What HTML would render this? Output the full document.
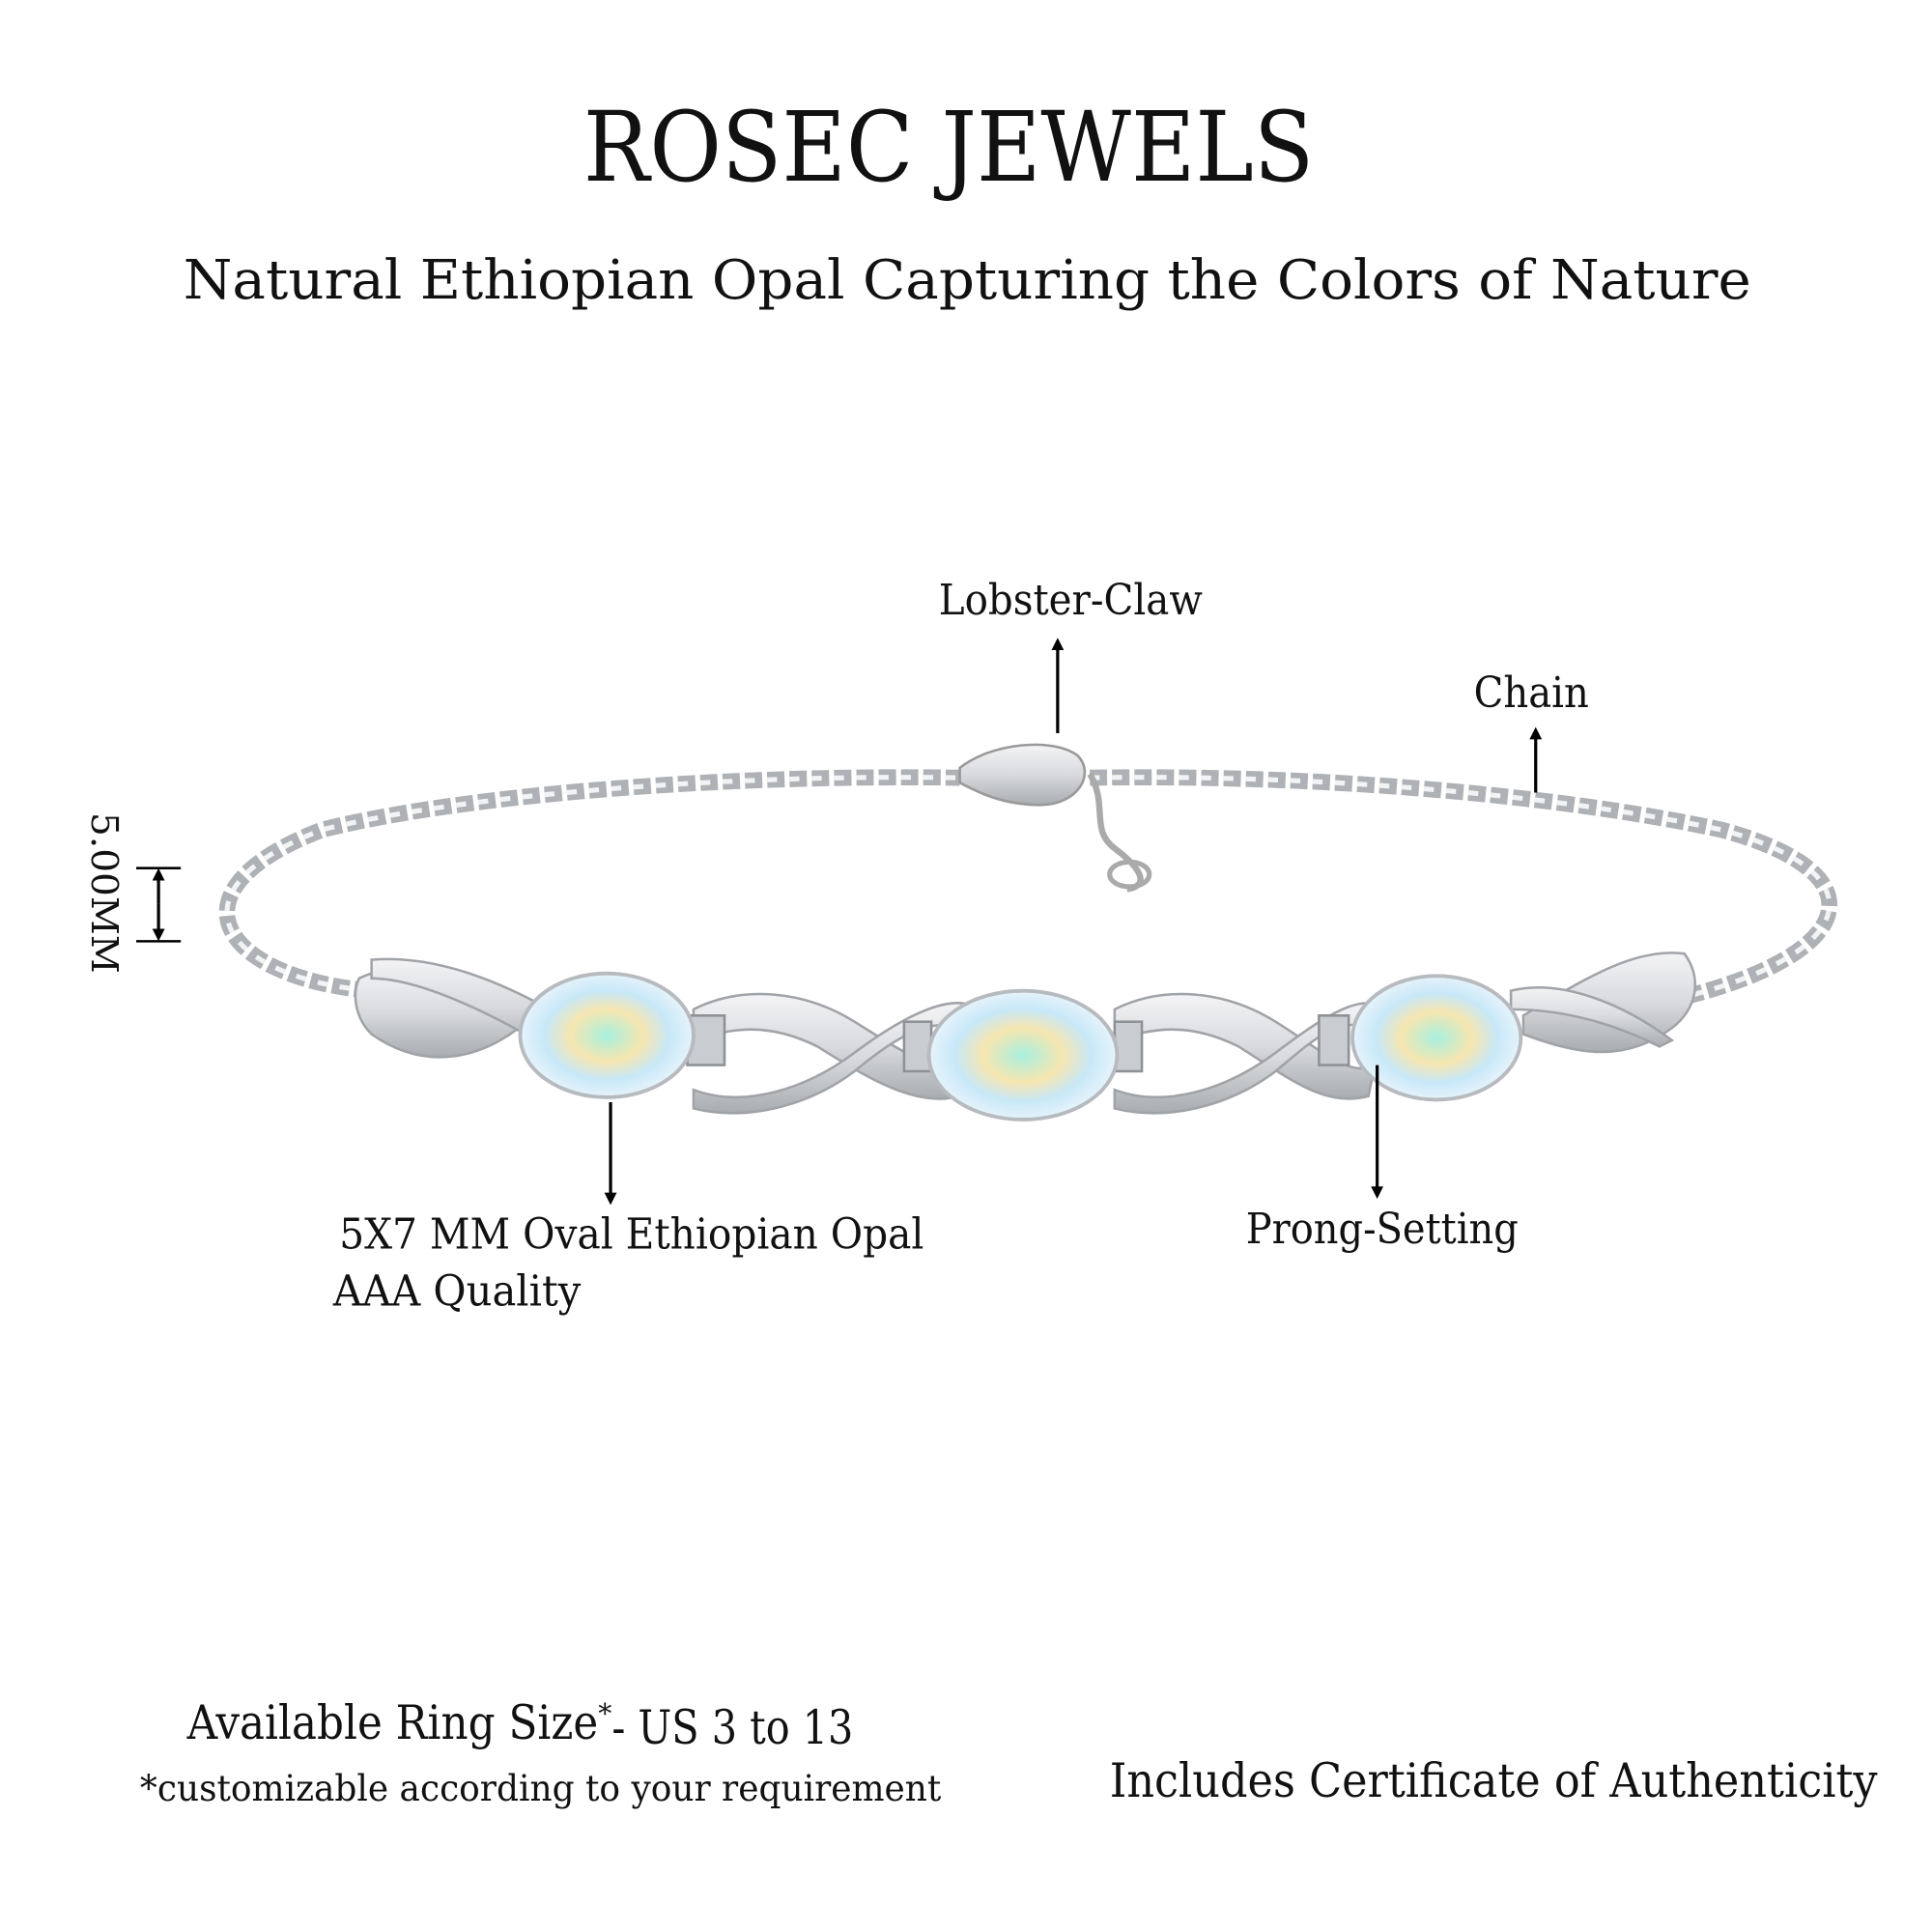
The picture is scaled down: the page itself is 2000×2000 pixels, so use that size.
<!DOCTYPE html>
<html><head><meta charset="utf-8"><style>
html,body{margin:0;padding:0;background:#fff;}
svg{display:block;}
text{font-family:"DejaVu Serif","Liberation Serif",serif;fill:#111;}
</style></head><body>
<svg width="2000" height="2000" viewBox="0 0 1560 1560" xmlns="http://www.w3.org/2000/svg">
<defs>
<radialGradient id="op" cx="50%" cy="50%" r="60%">
<stop offset="0" stop-color="#a8f0e0"/>
<stop offset="0.35" stop-color="#f6e6b0"/>
<stop offset="0.6" stop-color="#c8e8f8"/>
<stop offset="0.85" stop-color="#e8f4fb"/>
<stop offset="1" stop-color="#ffffff"/>
</radialGradient>
<linearGradient id="mt" x1="0" y1="0" x2="0" y2="1">
<stop offset="0" stop-color="#f4f4f6"/><stop offset="0.5" stop-color="#d8dadd"/><stop offset="1" stop-color="#a9acb0"/>
</linearGradient>
<marker id="ah" markerWidth="10" markerHeight="10" refX="5" refY="5" orient="auto" markerUnits="userSpaceOnUse"><path d="M0,0 L10,5 L0,10 z" fill="#000"/></marker>
</defs>

<g transform="translate(-4,-4)">
<text x="770" y="150" font-size="78" text-anchor="middle" textLength="590" lengthAdjust="spacingAndGlyphs">ROSEC JEWELS</text>
<text x="785" y="245" font-size="44" text-anchor="middle" textLength="1266" lengthAdjust="spacingAndGlyphs">Natural Ethiopian Opal Capturing the Colors of Nature</text>
</g>

<!-- chain -->
<path d="M300,800 C180,790 130,720 260,670 C380,640 600,625 775,628" fill="none" stroke="#aeb1b5" stroke-width="13" stroke-dasharray="14 4"/>
<path d="M300,800 C180,790 130,720 260,670 C380,640 600,625 775,628" fill="none" stroke="#f2f3f5" stroke-width="4" stroke-dasharray="8 10"/>
<path d="M880,628 C1050,625 1250,640 1390,670 C1520,705 1500,770 1360,805" fill="none" stroke="#aeb1b5" stroke-width="13" stroke-dasharray="14 4"/>
<path d="M880,628 C1050,625 1250,640 1390,670 C1520,705 1500,770 1360,805" fill="none" stroke="#f2f3f5" stroke-width="4" stroke-dasharray="8 10"/>
<!-- clasp -->
<path d="M775,620 C800,600 850,595 870,610 C885,625 870,650 840,650 C810,650 790,640 775,632 z" fill="url(#mt)" stroke="#999" stroke-width="2"/>
<path d="M880,625 C895,650 880,670 900,685 C920,700 930,715 910,718" fill="none" stroke="#aaa" stroke-width="5"/>
<ellipse cx="912" cy="706" rx="16" ry="10" fill="none" stroke="#aaa" stroke-width="4"/>

<!-- infinity links -->
<g fill="url(#mt)" stroke="#a0a3a7" stroke-width="2">
<path d="M290,790 C330,770 380,790 430,820 C400,850 350,870 300,835 C285,820 285,800 290,790 z"/>
<path d="M300,775 C360,770 420,800 470,830 L450,850 C400,820 340,790 300,790 z"/>
<path d="M560,815 C600,795 650,800 690,825 C730,850 760,870 780,860 L775,885 C740,895 700,870 660,845 C620,825 590,830 560,840 z"/>
<path d="M560,880 C600,895 650,880 690,850 C730,820 770,800 790,815 L780,830 C750,820 720,840 690,865 C650,895 600,905 560,895 z"/>
<path d="M900,815 C940,795 990,800 1030,825 C1070,850 1090,870 1110,860 L1105,885 C1070,895 1040,870 1000,845 C960,825 930,830 900,840 z"/>
<path d="M900,880 C940,895 990,880 1030,850 C1070,820 1100,800 1120,815 L1110,830 C1080,820 1060,840 1030,865 C990,895 940,905 900,895 z"/>
<path d="M1230,820 C1280,790 1320,765 1360,770 C1375,790 1370,815 1350,830 C1310,860 1270,850 1230,835 z"/>
<path d="M1220,800 C1260,790 1310,810 1350,840 L1340,845 C1300,825 1260,815 1220,815 z"/>
</g>
<g fill="#c9ccd0" stroke="#8e9196" stroke-width="2">
<rect x="555" y="820" width="30" height="40"/>
<rect x="730" y="825" width="22" height="40"/>
<rect x="900" y="825" width="22" height="40"/>
<rect x="1065" y="820" width="24" height="40"/>
</g>

<!-- opals -->
<g stroke="#b7babe" stroke-width="3">
<ellipse cx="490" cy="836" rx="70" ry="50" fill="url(#op)"/>
<ellipse cx="826" cy="852" rx="76" ry="52" fill="url(#op)"/>
<ellipse cx="1160" cy="838" rx="68" ry="50" fill="url(#op)"/>
</g>

<!-- callouts -->
<g transform="translate(-4,-4)">
<text x="762" y="500" font-size="34" textLength="213" lengthAdjust="spacingAndGlyphs">Lobster-Claw</text>
<text x="1194" y="575" font-size="34" textLength="93" lengthAdjust="spacingAndGlyphs">Chain</text>
<text transform="translate(78,660) rotate(90)" font-size="30" textLength="130" lengthAdjust="spacingAndGlyphs">5.00MM</text>
<text x="278" y="1012" font-size="34" textLength="472" lengthAdjust="spacingAndGlyphs">5X7 MM Oval Ethiopian Opal</text>
<text x="273" y="1058" font-size="34" textLength="200" lengthAdjust="spacingAndGlyphs">AAA Quality</text>
<text x="1010" y="1008" font-size="34" textLength="220" lengthAdjust="spacingAndGlyphs">Prong-Setting</text>
<text x="155" y="1408" font-size="38" textLength="332" lengthAdjust="spacingAndGlyphs">Available Ring Size</text>
<text x="487" y="1395" font-size="22">*</text>
<text x="498" y="1412" font-size="38" textLength="195" lengthAdjust="spacingAndGlyphs">- US 3 to 13</text>
<text x="117" y="1458" font-size="29" textLength="647" lengthAdjust="spacingAndGlyphs">*customizable according to your requirement</text>
<text x="900" y="1455" font-size="38" textLength="620" lengthAdjust="spacingAndGlyphs">Includes Certificate of Authenticity</text>
</g>

<line x1="854" y1="592" x2="854" y2="520" stroke="#000" stroke-width="2.5" marker-end="url(#ah)"/>
<line x1="1240" y1="640" x2="1240" y2="592" stroke="#000" stroke-width="2.5" marker-end="url(#ah)"/>
<line x1="110" y1="701" x2="146" y2="701" stroke="#000" stroke-width="2"/>
<line x1="110" y1="760" x2="146" y2="760" stroke="#000" stroke-width="2"/>
<line x1="128" y1="730" x2="128" y2="706" stroke="#000" stroke-width="2.5" marker-end="url(#ah)"/>
<line x1="128" y1="730" x2="128" y2="755" stroke="#000" stroke-width="2.5" marker-end="url(#ah)"/>
<line x1="493" y1="890" x2="493" y2="968" stroke="#000" stroke-width="2.5" marker-end="url(#ah)"/>
<line x1="1112" y1="860" x2="1112" y2="963" stroke="#000" stroke-width="2.5" marker-end="url(#ah)"/>
</svg>
</body></html>
